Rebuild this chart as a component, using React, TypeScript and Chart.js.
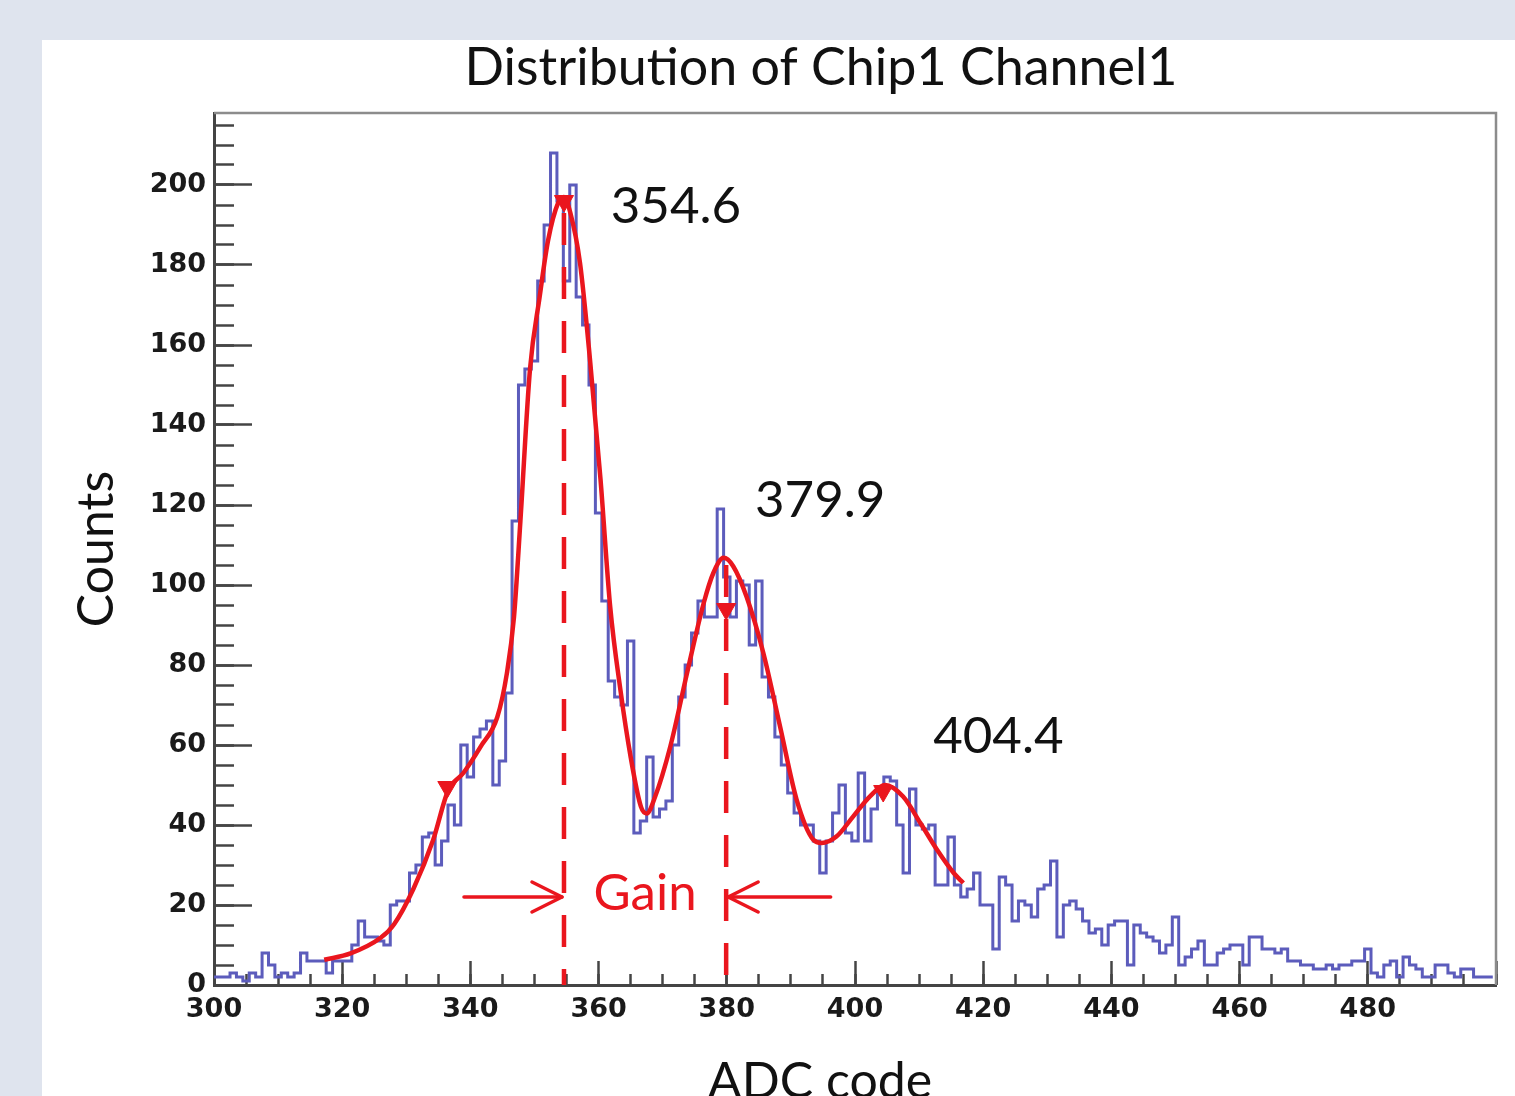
import React, { useEffect, useRef } from 'react';
import { Chart, registerables } from 'chart.js';

Chart.register(...registerables);

// ---------- texts ----------
const TITLE = 'Distribution of Chip1 Channel1';
const X_TITLE = 'ADC code';
const Y_TITLE = 'Counts';
const GAIN_TEXT = 'Gain';

// ---------- axes ----------
const X_MIN = 300;
const X_MAX = 500;
const Y_MIN = 0;
const Y_MAX = 218;
const X_MAJOR = 20;
const X_MINOR = 5;
const Y_MAJOR = 20;
const Y_MINOR = 5;

// ---------- histogram (bin centres 300..499, width 1) ----------
const BIN_FIRST = 300;
const BIN_WIDTH = 1;
const counts = [
  2, 2, 2, 3, 2, 1, 3, 2, 8, 5, // 300
  2, 3, 2, 3, 8, 6, 6, 6, 3, 6, // 310
  6, 6, 10, 16, 12, 12, 11, 10, 20, 21, // 320
  21, 28, 30, 37, 38, 30, 36, 45, 40, 60, // 330
  52, 62, 64, 66, 50, 56, 73, 116, 150, 154, // 340
  156, 176, 190, 208, 196, 176, 200, 172, 165, 150, // 350
  118, 96, 76, 72, 70, 86, 38, 41, 57, 42, // 360
  44, 46, 60, 72, 80, 88, 96, 92, 92, 119, // 370
  102, 92, 101, 100, 85, 101, 77, 72, 62, 55, // 380
  48, 43, 40, 40, 36, 28, 36, 43, 50, 38, // 390
  36, 53, 36, 44, 48, 52, 51, 40, 28, 49, // 400
  40, 39, 40, 25, 25, 37, 25, 22, 24, 28, // 410
  20, 20, 9, 27, 25, 16, 21, 20, 17, 24, // 420
  25, 31, 12, 20, 21, 19, 16, 13, 14, 10, // 430
  15, 16, 16, 5, 15, 13, 12, 11, 8, 10, // 440
  17, 5, 7, 9, 11, 5, 5, 8, 9, 10, // 450
  10, 5, 12, 12, 9, 9, 8, 9, 6, 6, // 460
  5, 5, 4, 4, 5, 4, 5, 5, 6, 6, // 470
  9, 3, 2, 5, 6, 2, 7, 5, 4, 2, // 480
  2, 5, 5, 3, 2, 4, 4, 2, 2, 2, // 490
];

// ---------- fitted curve ----------
const fitX = [
  317.2, 321.3, 326.0, 328.1, 331.1, 334.2, 336.5, 338.9, 341.6, 344.2,
  345.7, 346.8, 347.8, 349.3, 350.8, 352.1, 353.7, 354.6, 355.6, 357.1,
  358.7, 360.3, 361.8, 363.4, 365.0, 366.6, 367.5, 368.8, 371.2, 373.8,
  376.4, 377.9, 379.5, 381.0, 383.1, 385.7, 388.3, 390.9, 393.5, 394.8,
  397.1, 399.7, 402.3, 404.7, 407.5, 410.2, 412.8, 415.4, 416.9,
];
const fitY = [
  6.3, 7.9, 11.8, 15.2, 24, 36.3, 48.5, 53, 59.6, 67,
  78, 92, 116, 154, 172, 186, 195.6, 197, 193, 180.5,
  155.6, 126.4, 94.7, 73.8, 57, 44.6, 42.9, 47, 59.7, 78,
  95.5, 103, 106.8, 104.7, 97, 83, 64.7, 46.3, 36.3, 35.5,
  37.1, 42.1, 47.1, 50, 47.1, 40.5, 33.8, 28, 25.5,
];

// ---------- peak markers & annotations ----------
const markerX = [336.4, 354.6, 379.9, 404.4];
const markerY = [49.5, 196, 94, 48.5];

const peakText = ['354.6', '379.9', '404.4'];
const peakLabelX = [361.9, 384.4, 412.2];
const peakLabelY = [194.5, 121, 62];

const gainLineX = [354.6, 379.9];
const gainLineTopY = [193, 105];
const gainArrowFromX = [339.0, 396.2];
const gainY = 22;

// ---------- styles ----------
const RED = 'rgb(234, 22, 30)';
const BLUE = 'rgb(92, 92, 188)';
const AXIS = '#444444';
const FRAME = '#8c8c8c';
const TEXT = '#111111';
const TICK_FONT = { family: 'DejaVu Sans', weight: 'bold' as const, size: 27 };

const annotate = {
  id: 'annotate',
  afterDatasetsDraw(chart: any) {
    const { ctx, scales } = chart;
    const x = scales.x;
    const y = scales.y;
    ctx.save();
    // gain arrows
    ctx.strokeStyle = RED;
    ctx.lineWidth = 3.5;
    ctx.lineCap = 'round';
    ctx.lineJoin = 'round';
    const py = y.getPixelForValue(gainY);
    gainLineX.forEach((tipV, i) => {
      const tip = x.getPixelForValue(tipV);
      const from = x.getPixelForValue(gainArrowFromX[i]);
      const dir = Math.sign(tip - from);
      ctx.beginPath();
      ctx.moveTo(from, py);
      ctx.lineTo(tip - dir * 2, py);
      ctx.stroke();
      ctx.beginPath();
      ctx.moveTo(tip - dir * 32, py - 15);
      ctx.lineTo(tip - dir * 2, py);
      ctx.lineTo(tip - dir * 32, py + 15);
      ctx.stroke();
    });
    // Gain text
    ctx.fillStyle = RED;
    ctx.font = '51px Lato';
    ctx.textAlign = 'center';
    ctx.textBaseline = 'middle';
    const gx = (x.getPixelForValue(gainLineX[0]) + x.getPixelForValue(gainLineX[1])) / 2;
    ctx.fillText(GAIN_TEXT, gx, py - 3);
    // peak labels
    ctx.fillStyle = TEXT;
    ctx.textAlign = 'left';
    peakText.forEach((t, i) => {
      ctx.fillText(t, x.getPixelForValue(peakLabelX[i]), y.getPixelForValue(peakLabelY[i]));
    });
    ctx.restore();
  },
  afterDraw(chart: any) {
    const { ctx, chartArea } = chart;
    ctx.save();
    // frame top & right
    ctx.strokeStyle = FRAME;
    ctx.lineWidth = 2.5;
    ctx.beginPath();
    ctx.moveTo(chartArea.left, chartArea.top);
    ctx.lineTo(chartArea.right, chartArea.top);
    ctx.lineTo(chartArea.right, chartArea.bottom);
    ctx.stroke();
    // titles
    ctx.fillStyle = TEXT;
    ctx.textAlign = 'center';
    ctx.textBaseline = 'alphabetic';
    ctx.font = '52px Lato';
    ctx.fillText(TITLE, 779, 45);
    ctx.font = '50px Lato';
    ctx.fillText(X_TITLE, 778, 1058);
    ctx.restore();
  },
};

function tickAxis(axis: 'x' | 'y', min: number, max: number, step: number, len: number) {
  return {
    type: 'linear',
    axis,
    position: axis === 'x' ? 'bottom' : 'left',
    min,
    max,
    weight: 0,
    afterFit: (s: any) => {
      if (axis === 'x') s.height = 0;
      else s.width = 0;
    },
    grid: {
      drawOnChartArea: false,
      drawTicks: true,
      tickLength: -len,
      tickWidth: 2.5,
      tickColor: AXIS,
    },
    border: { display: false },
    ticks: { display: false, stepSize: step, includeBounds: false },
  };
}

export default function App() {
  const ref = useRef<HTMLCanvasElement>(null);

  useEffect(() => {
    const histPoints = counts.map((c, i) => ({ x: BIN_FIRST + i * BIN_WIDTH - BIN_WIDTH / 2, y: c }));
    histPoints.push({
      x: BIN_FIRST + counts.length * BIN_WIDTH - BIN_WIDTH / 2,
      y: counts[counts.length - 1],
    });

    const dashSets = gainLineX.map((gx, i) => ({
      data: [
        { x: gx, y: gainLineTopY[i] },
        { x: gx, y: Y_MIN },
      ],
      showLine: true,
      borderColor: RED,
      borderWidth: 4.5,
      borderDash: [32, 22],
      pointRadius: 0,
      order: 3,
      xAxisID: 'x',
      yAxisID: 'y',
    }));

    const chart = new Chart(ref.current as HTMLCanvasElement, {
      type: 'scatter',
      data: {
        datasets: [
          {
            data: histPoints,
            showLine: true,
            stepped: true,
            borderColor: BLUE,
            borderWidth: 3,
            pointRadius: 0,
            order: 4,
            xAxisID: 'x',
            yAxisID: 'y',
          } as any,
          ...dashSets,
          {
            data: fitX.map((v, i) => ({ x: v, y: fitY[i] })),
            showLine: true,
            cubicInterpolationMode: 'monotone',
            borderColor: RED,
            borderWidth: 4.5,
            pointRadius: 0,
            order: 2,
            xAxisID: 'x',
            yAxisID: 'y',
          },
          {
            data: markerX.map((v, i) => ({ x: v, y: markerY[i] })),
            showLine: false,
            pointStyle: 'triangle',
            pointRotation: 180,
            pointRadius: 11,
            pointBackgroundColor: RED,
            pointBorderColor: RED,
            pointBorderWidth: 1,
            order: 1,
            xAxisID: 'x',
            yAxisID: 'y',
          },
        ],
      },
      options: {
        responsive: false,
        animation: false,
        devicePixelRatio: 1,
        layout: { padding: { top: 73, right: 19, left: 0, bottom: 0 } },
        plugins: {
          legend: { display: false },
          tooltip: { enabled: false },
        },
        scales: {
          x: {
            type: 'linear',
            axis: 'x',
            position: 'bottom',
            min: X_MIN,
            max: X_MAX,
            weight: 1,
            afterFit: (s: any) => {
              s.height = 111;
            },
            grid: {
              drawOnChartArea: false,
              drawTicks: false,
            },
            border: { display: true, color: AXIS, width: 3 },
            ticks: {
              stepSize: X_MAJOR,
              autoSkip: false,
              maxRotation: 0,
              minRotation: 0,
              padding: 9,
              color: '#1a1a1a',
              font: TICK_FONT,
              callback: (v: any) => (v === X_MAX ? '' : String(v)),
            },
          },
          xMajorTicks: tickAxis('x', X_MIN, X_MAX, X_MAJOR, 24),
          xMinorTicks: tickAxis('x', X_MIN, X_MAX, X_MINOR, 11),
          y: {
            type: 'linear',
            axis: 'y',
            position: 'left',
            min: Y_MIN,
            max: Y_MAX,
            weight: 1,
            afterFit: (s: any) => {
              s.width = 172;
            },
            grid: {
              drawOnChartArea: false,
              drawTicks: false,
            },
            border: { display: true, color: AXIS, width: 3 },
            ticks: {
              stepSize: Y_MAJOR,
              includeBounds: false,
              autoSkip: false,
              padding: 8,
              color: '#1a1a1a',
              font: TICK_FONT,
            },
            title: {
              display: true,
              text: Y_TITLE,
              color: TEXT,
              font: { family: 'Lato', size: 50 },
              padding: { top: 25, bottom: 0 },
            },
          },
          yMajorTicks: tickAxis('y', Y_MIN, Y_MAX, Y_MAJOR, 38),
          yMinorTicks: tickAxis('y', Y_MIN, Y_MAX, Y_MINOR, 20),
        },
      } as any,
      plugins: [annotate],
    });
    return () => chart.destroy();
  }, []);

  return (
    <div
      style={{
        position: 'fixed',
        left: 0,
        top: 0,
        width: 1515,
        height: 1096,
        background: '#dfe4ee',
        overflow: 'hidden',
      }}
    >
      <div
        style={{
          position: 'absolute',
          left: 42,
          top: 40,
          width: 1473,
          height: 1056,
          background: '#ffffff',
          overflow: 'hidden',
        }}
      >
        <canvas ref={ref} width={1473} height={1056} style={{ display: 'block', width: 1473, height: 1056 }} />
      </div>
    </div>
  );
}
